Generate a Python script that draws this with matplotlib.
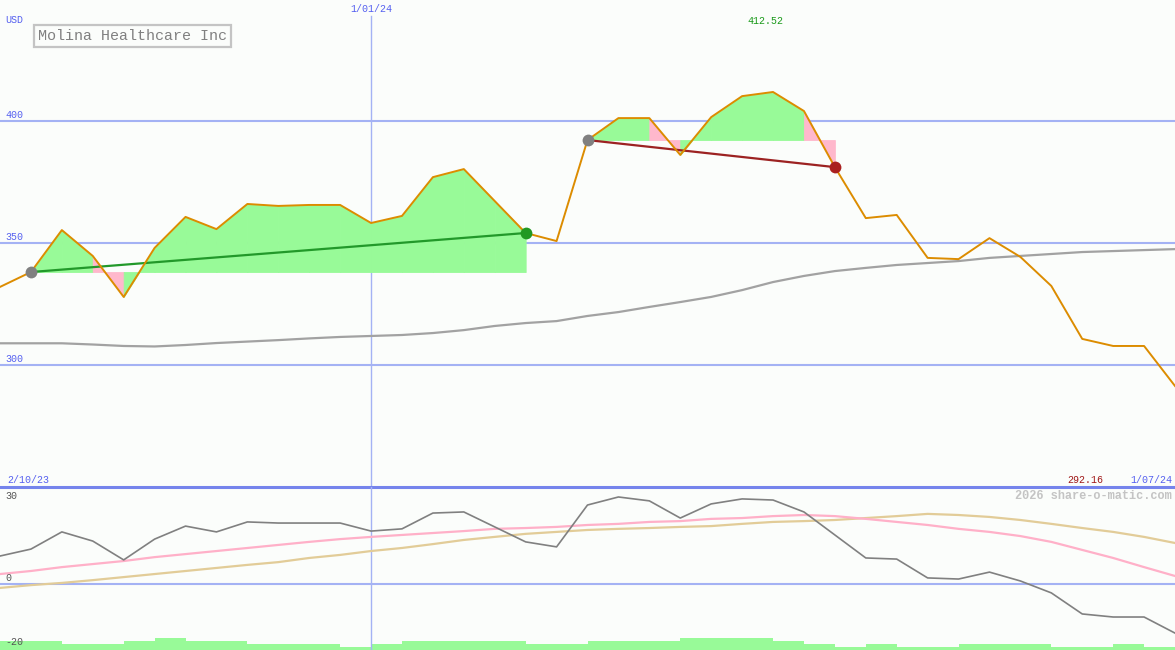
import numpy as np
import matplotlib
matplotlib.use("Agg")
import matplotlib.pyplot as plt

# ──────────────────────────────────────────────
# Data (weekly, 2/10/23 .. 1/07/24)
# ──────────────────────────────────────────────

weeks = np.arange(39)
price = [332.0, 338.1, 355.3, 344.7, 327.9, 348.0, 360.7, 355.7, 366.0, 365.2,
         365.6, 365.6, 358.2, 361.1, 377.0, 380.3, 367.2, 354.1, 350.8, 392.2,
         401.2, 401.2, 386.1, 401.6, 410.2, 411.9, 404.1, 381.1, 360.2, 361.5,
         343.9, 343.4, 352.0, 344.3, 332.4, 310.7, 307.8, 307.8, 291.4]
price_ma = [308.9, 308.9, 308.9, 308.4, 307.8, 307.6, 308.2, 309.0, 309.6, 310.2,
            310.9, 311.5, 311.9, 312.3, 313.1, 314.3, 316.0, 317.2, 318.0, 320.1,
            321.7, 323.8, 325.8, 327.9, 330.7, 334.0, 336.5, 338.5, 339.8, 341.0,
            341.8, 342.6, 343.9, 344.7, 345.5, 346.3, 346.7, 347.1, 347.5]
momentum = [10.1, 12.6, 18.8, 15.5, 8.7, 16.2, 20.9, 18.8, 22.4, 22.0,
            22.0, 22.0, 19.1, 19.9, 25.6, 26.0, 20.6, 15.2, 13.4, 28.5,
            31.4, 30.0, 23.8, 28.9, 30.7, 30.3, 26.0, 17.7, 9.4, 9.0,
            2.2, 1.8, 4.3, 1.1, -3.2, -10.8, -11.9, -11.9, -17.7]
mom_fast = [3.6, 4.7, 6.1, 7.2, 8.3, 9.7, 10.8, 11.9, 13.0, 14.1,
            15.2, 16.2, 17.0, 17.7, 18.4, 19.1, 19.9, 20.2, 20.6, 21.3,
            21.7, 22.4, 22.7, 23.5, 23.8, 24.5, 24.9, 24.5, 23.5, 22.4,
            21.3, 19.9, 18.8, 17.3, 15.2, 12.3, 9.4, 6.1, 2.9]
mom_slow = [-1.4, -0.4, 0.4, 1.4, 2.5, 3.6, 4.7, 5.8, 6.9, 7.9,
            9.4, 10.5, 11.9, 13.0, 14.4, 15.9, 17.0, 18.1, 18.8, 19.5,
            19.9, 20.2, 20.6, 20.9, 21.7, 22.4, 22.7, 23.1, 23.8, 24.5,
            25.3, 24.9, 24.2, 23.1, 21.7, 20.2, 18.8, 17.0, 14.8]
volume = [3, 3, 2, 2, 3, 4, 3, 3, 2, 2, 2, 1, 2, 3, 3, 3, 3, 2, 2,
          3, 3, 3, 4, 4, 4, 3, 2, 1, 2, 1, 1, 2, 2, 2, 1, 1, 2, 1]

up_trend = (1, 17)     # start / end week of the rising trend
down_trend = (19, 27)  # start / end week of the falling trend
price_levels = [300, 350, 400]
jan_week = 12

BG = "#fbfdfb"
GRID = "#a4b2f4"
LABEL = "#5560f0"
GREEN_FILL = "#98fa98"
PINK_FILL = "#ffb8cc"
MONO = ["Liberation Mono", "DejaVu Sans Mono"]


def shade_trend(ax, start, end):
    base = price[start]
    for i in range(start, end):
        color = GREEN_FILL if price[i + 1] >= base else PINK_FILL
        ax.fill_between(weeks[i:i + 2], price[i:i + 2], base,
                        facecolor=color, edgecolor=color, lw=0.6, zorder=1)


fig = plt.figure(figsize=(11.75, 6.5), dpi=100, facecolor=BG)
H = 650.0
ax = fig.add_axes([0, 163 / H, 1, 487 / H], facecolor=BG)
axv = fig.add_axes([0, 0, 1, 163 / H], facecolor=BG)
ax2 = fig.add_axes([0, 0, 1, 163 / H], facecolor="none")
for a in (ax, axv, ax2):
    a.set_xlim(0, 38)
    a.axis("off")
ax.set_ylim(250, 449.6)
ax2.set_ylim(-23.8, 35.0)
axv.set_ylim(0, 54.3)

# ── price panel ──
for lvl in price_levels:
    ax.axhline(lvl, color=GRID, lw=1.5, zorder=0)
    ax.text(5 / 1175, lvl + 0.5, str(lvl), transform=ax.get_yaxis_transform(),
            fontsize=7.2, color=LABEL, family=MONO, va="bottom")
ax.plot([jan_week, jan_week], [250, 443], color=GRID, lw=1, zorder=0)
ax.axhline(250, color="#7584ec", lw=2.2, zorder=5, clip_on=False)

shade_trend(ax, *up_trend)
shade_trend(ax, *down_trend)

ax.plot(weeks, price_ma, color="#a2a2a2", lw=1.6, zorder=2)
ax.plot([up_trend[0], up_trend[1]], [price[up_trend[0]], price[up_trend[1]]],
        color="#22992a", lw=1.6, zorder=3)
ax.plot([down_trend[0], down_trend[1]], [price[down_trend[0]], price[down_trend[1]]],
        color="#9c2222", lw=1.6, zorder=3)
ax.plot(weeks, price, color="#dc8c00", lw=1.4, zorder=4)

for wk, col in [(up_trend[0], "#808080"), (up_trend[1], "#229922"),
                (down_trend[0], "#808080"), (down_trend[1], "#aa2020")]:
    ax.plot(wk, price[wk], "o", ms=8.5, color=col, mec="none", zorder=6)

ax.text(5 / 1175, 1 - 20 / 487, "USD", transform=ax.transAxes, fontsize=7.2,
        color=LABEL, family=MONO, va="center")
ax.text(jan_week, 1 - 9 / 487, "1/01/24", transform=ax.get_xaxis_transform(),
        fontsize=7.2, color=LABEL, family=MONO, ha="center", va="center")
ax.text(765 / 1175, 1 - 21 / 487, "%.2f" % 412.52, transform=ax.transAxes,
        fontsize=7.2, color="#1a9a1a", family=MONO, ha="center", va="center")
ax.text(7 / 1175, 7 / 487, "2/10/23", transform=ax.transAxes, fontsize=7.2,
        color=LABEL, family=MONO, va="center")
ax.text(1085 / 1175, 7 / 487, "%.2f" % 292.16, transform=ax.transAxes,
        fontsize=7.2, color="#a01818", family=MONO, ha="center", va="center")
ax.text(1172 / 1175, 7 / 487, "1/07/24", transform=ax.transAxes, fontsize=7.2,
        color=LABEL, family=MONO, ha="right", va="center")
ax.text(38 / 1175, 1 - 36 / 487, "Molina Healthcare Inc", transform=ax.transAxes,
        fontsize=10.8, color="#808080", family=MONO, va="center",
        bbox=dict(boxstyle="square,pad=0.25", fc=BG, ec="#c4c4c4", lw=1.6))

# ── oscillator panel ──
axv.stairs(volume, weeks, baseline=0, fill=True, color=GREEN_FILL, lw=0)

ax2.axhline(0, color=GRID, lw=1.5, zorder=0)
ax2.plot([jan_week, jan_week], [-23.8, 35.0], color=GRID, lw=1, zorder=0)
ax2.plot(weeks, mom_slow, color="#e2cc98", lw=1.6, zorder=2)
ax2.plot(weeks, mom_fast, color="#ffb0c8", lw=1.6, zorder=2)
ax2.plot(weeks, momentum, color="#808080", lw=1.2, zorder=3)
for val, lab in [(31.8, "30"), (2.2, "0"), (-21.0, "-20")]:
    ax2.text(5 / 1175, val, lab, transform=ax2.get_yaxis_transform(),
             fontsize=7.2, color="#555555", family=MONO, va="center")
ax2.text(1172 / 1175, 1 - 9 / 163, "2026 share-o-matic.com", transform=ax2.transAxes,
         fontsize=8.6, color="#c4c4c4", family=MONO, weight="bold",
         ha="right", va="center")

fig.savefig("out.png", dpi=100, facecolor=BG)
